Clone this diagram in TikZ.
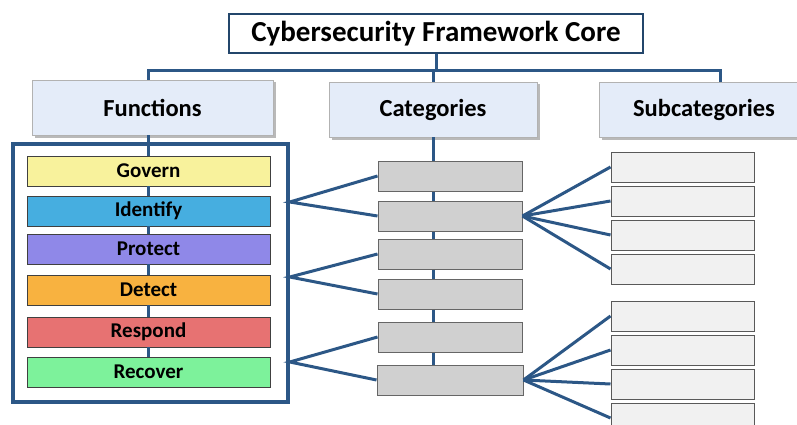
\documentclass[tikz,border=0pt]{standalone}
\usepackage{fontspec}
\setmainfont{Carlito}
\usetikzlibrary{shadows}
\definecolor{navy}{HTML}{2C5786}
\definecolor{hdrblue}{HTML}{E4ECF9}
\definecolor{govcol}{HTML}{F8F29C}
\definecolor{idcol}{HTML}{46AEE0}
\definecolor{prcol}{HTML}{8F88E8}
\definecolor{decol}{HTML}{F8B240}
\definecolor{rscol}{HTML}{E77272}
\definecolor{rccol}{HTML}{7DF29B}
\definecolor{catgray}{HTML}{D0D0D0}
\definecolor{subgray}{HTML}{F1F1F1}
\tikzset{
  hdr/.style={draw=gray!60,fill=hdrblue,minimum height=55pt,
    drop shadow={shadow xshift=2.5pt,shadow yshift=-2.5pt,fill=gray!55,opacity=1},
    font=\bfseries\fontsize{24.5}{24.5}\selectfont},
  fun/.style={draw=black!75,line width=0.8pt,minimum width=243pt,minimum height=30pt,
    font=\bfseries\fontsize{21}{21}\selectfont},
  catbox/.style={draw=black!60,line width=1pt,fill=catgray,minimum width=144pt,minimum height=30pt},
  subbox/.style={draw=black!65,line width=1pt,fill=subgray,minimum width=143pt,minimum height=30pt},
  link/.style={navy,line width=3pt}
}

\begin{document}
\begin{tikzpicture}[x=1pt,y=-1pt]
  \useasboundingbox (0,0) rectangle (797,425);
  \clip (0,0) rectangle (797,425);
  % title and headers
  \node[draw=navy!80!black,line width=2.5pt,fill=white,minimum width=414pt,minimum height=39pt,
    font=\bfseries\fontsize{29}{29}\selectfont] (title) at (436,33.5) {Cybersecurity Framework Core};
  \node[hdr,minimum width=241pt] (fhdr) at (152.5,107.5) {Functions};
  \node[hdr,minimum width=208pt] (chdr) at (433,109.5) {Categories};
  \node[hdr,minimum width=210pt] (shdr) at (704,109.5) {Subcategories};
  % functions
  \node[draw=navy,line width=3.5pt,minimum width=275pt,minimum height=258pt] (fbox) at (150.5,273) {};
  \node[fun,fill=govcol] (govern)   at (148.5,171) {Govern};
  \node[fun,fill=idcol]  (identify) at (148.5,211) {Identify};
  \node[fun,fill=prcol]  (protect)  at (148.5,249) {Protect};
  \node[fun,fill=decol]  (detect)   at (148.5,290) {Detect};
  \node[fun,fill=rscol]  (respond)  at (148.5,332) {Respond};
  \node[fun,fill=rccol]  (recover)  at (148.5,372) {Recover};
  % categories
  \node[catbox] (cat1) at (450,176) {};
  \node[catbox] (cat2) at (450,216) {};
  \node[catbox] (cat3) at (450,254) {};
  \node[catbox] (cat4) at (450,294) {};
  \node[catbox] (cat5) at (450,337) {};
  \node[catbox,minimum width=146pt] (cat6) at (450,380) {};
  % subcategories
  \foreach \i/\y in {1/167,2/201,3/235,4/269,5/316,6/350,7/384,8/418}
    \node[subbox] (sub\i) at (682.5,\y) {};
  % trunk
  \coordinate (trunkF) at (govern.north |- 0,71);
  \coordinate (trunkC) at (chdr.north |- 0,71);
  \coordinate (trunkT) at (title.south |- 0,71);
  \coordinate (subtop) at ([xshift=16pt]shdr.north);
  \coordinate (trunkS) at (subtop |- 0,71);
  \draw[link] (title.south) -- (trunkT);
  \draw[link] (govern.north |- fhdr.north) -- (trunkF) -- (trunkS) -- (subtop);
  \draw[link] (chdr.north) -- (trunkC);
  % spines
  \draw[link] (govern.north |- fhdr.south) -- (govern.north);
  \foreach \p/\q in {govern/identify,identify/protect,protect/detect,detect/respond,respond/recover}
    \draw[link] (\p.south) -- (\q.north);
  \draw[link] (chdr.south) -- (chdr.south |- cat1.north);
  \foreach \p/\q in {cat1/cat2,cat2/cat3,cat3/cat4,cat4/cat5,cat5/cat6}
    \draw[link] (chdr.south |- \p.south) -- (chdr.south |- \q.north);
  % fans
  \coordinate (fanA) at (fbox.east |- 0,202);
  \coordinate (fanB) at (fbox.east |- 0,277);
  \coordinate (fanC) at (fbox.east |- 0,362);
  \draw[link] (cat1.west) -- (fanA) -- (cat2.west);
  \draw[link] (cat3.west) -- (fanB) -- (cat4.west);
  \draw[link] (cat5.west) -- (fanC) -- (cat6.west);
  \foreach \i in {1,...,4}
    \draw[link] (cat2.east) -- (sub\i.west);
  \foreach \i in {5,...,8}
    \draw[link] (cat6.east) -- (sub\i.west);
\end{tikzpicture}
\end{document}
